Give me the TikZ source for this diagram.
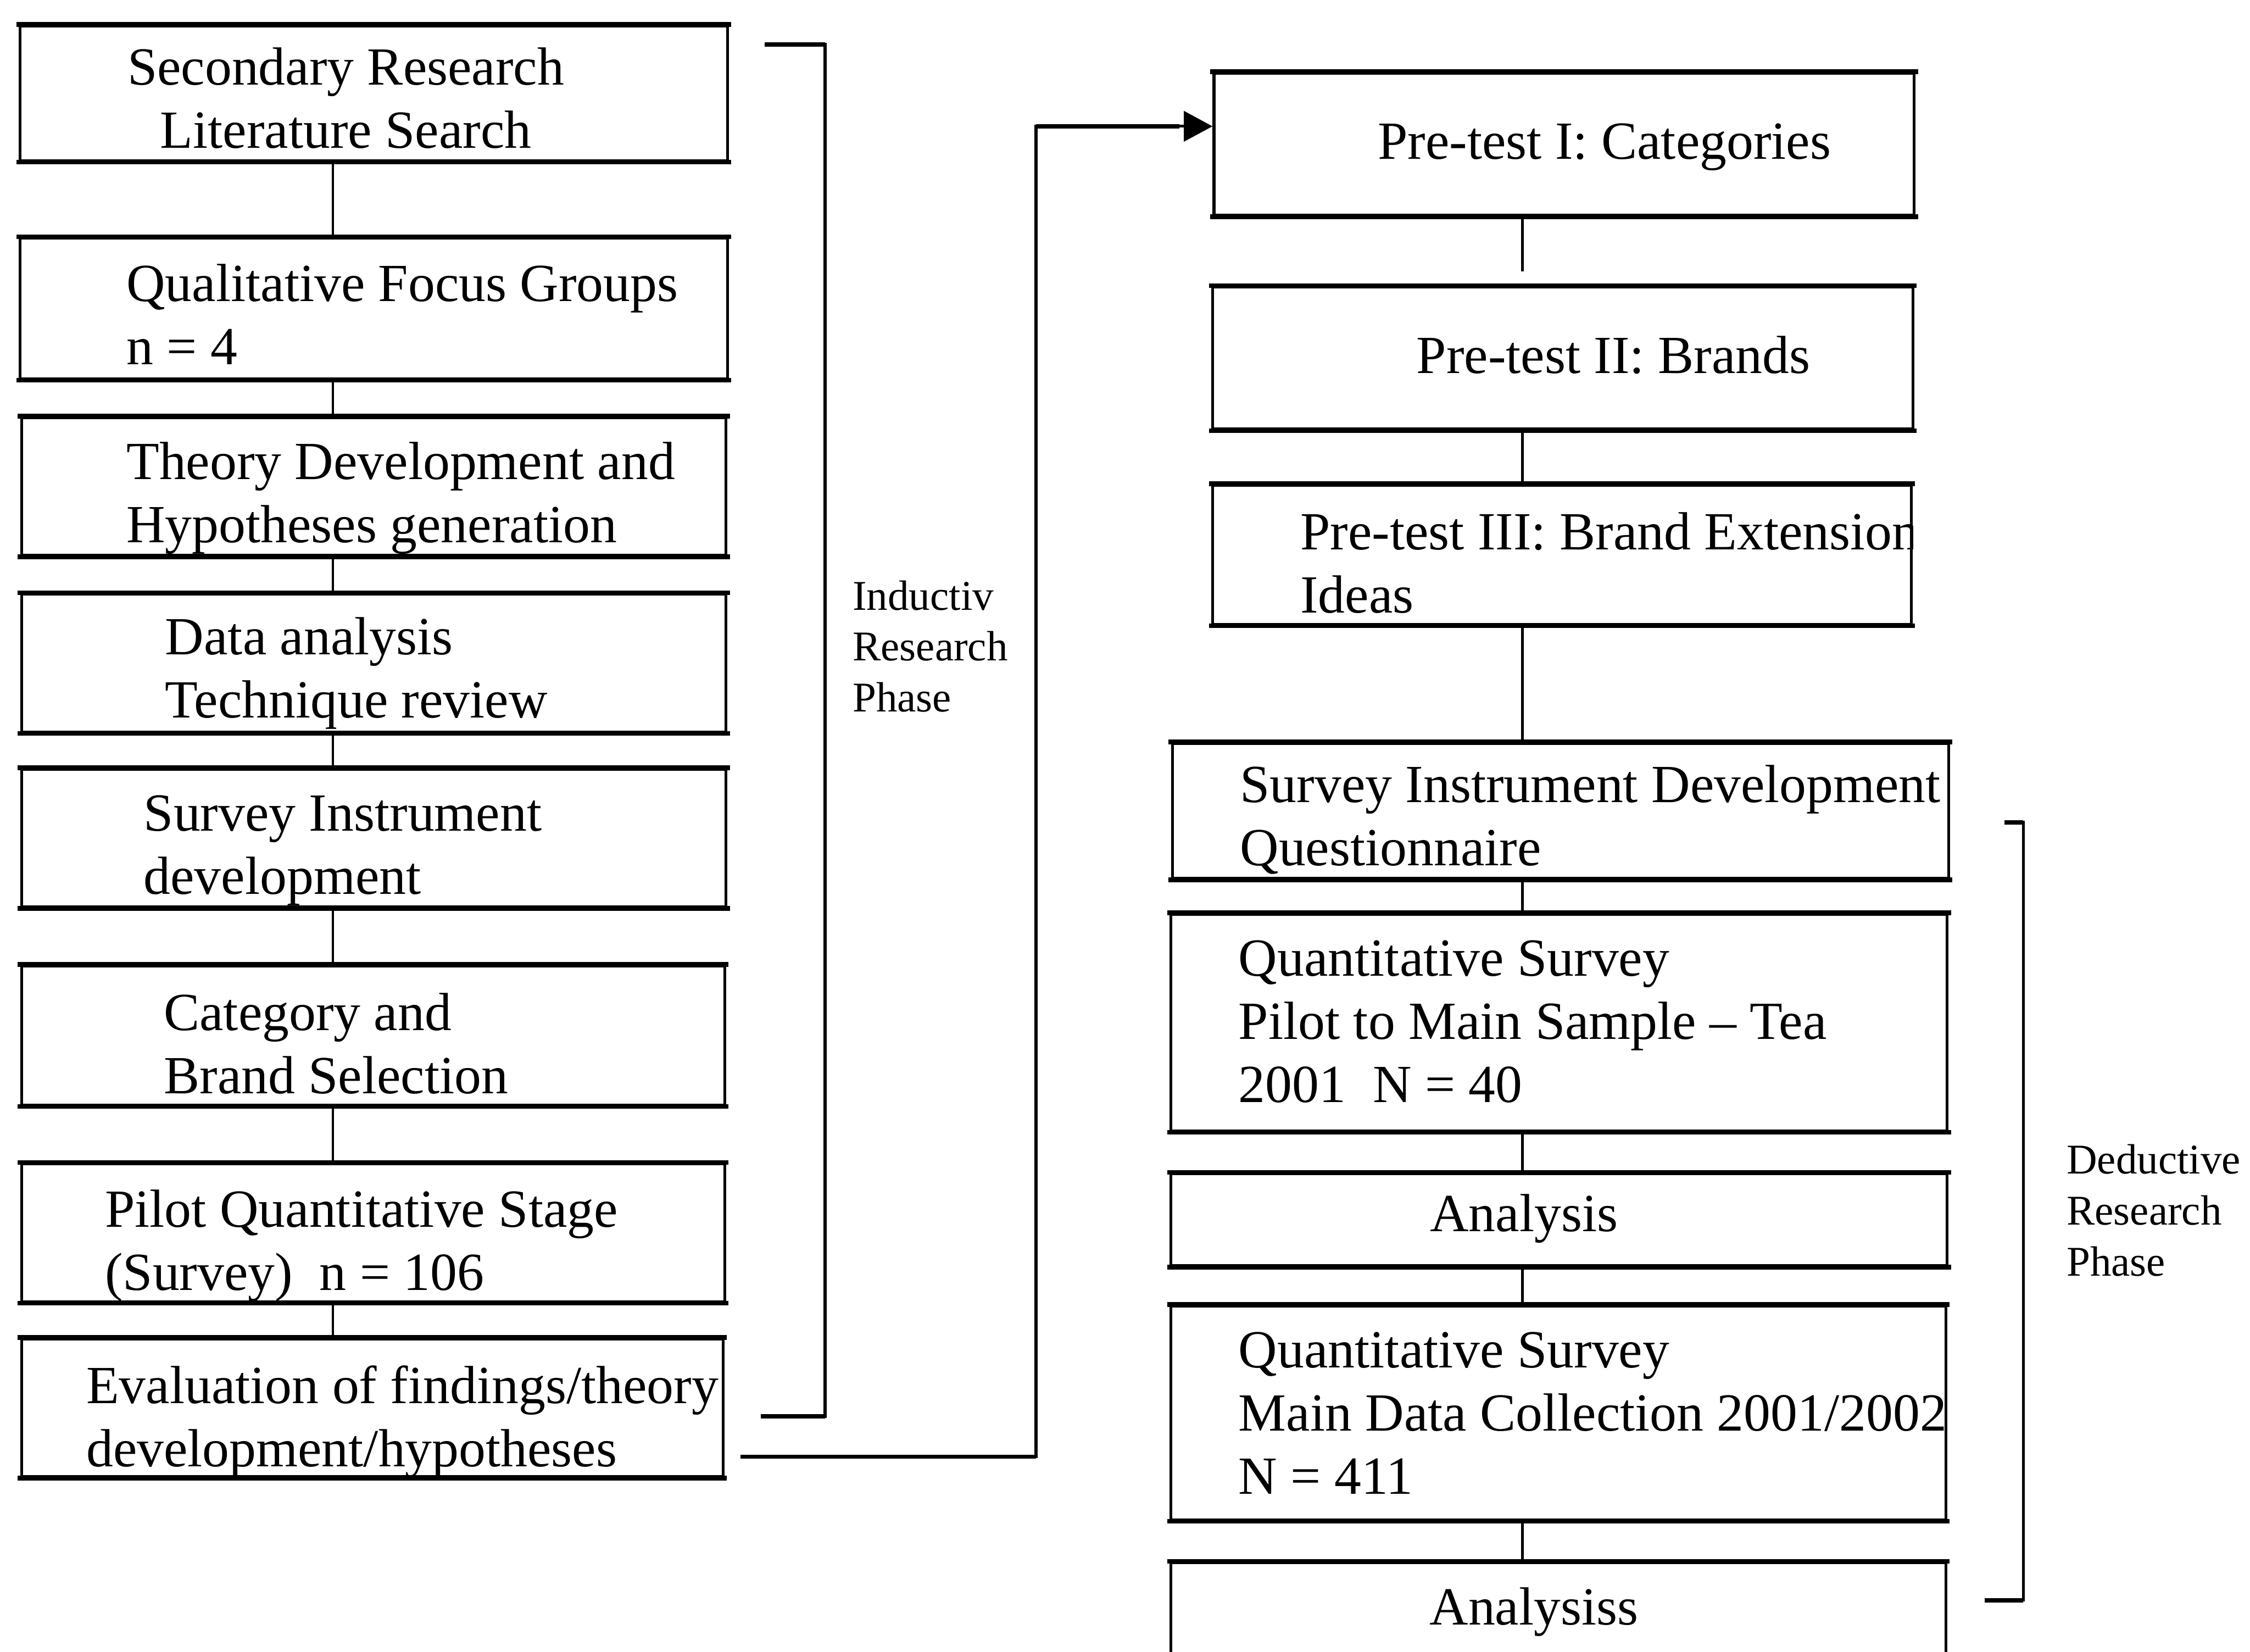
\documentclass[tikz,border=0pt]{standalone}
\usepackage{fontspec}
\setmainfont{Liberation Serif}
\usetikzlibrary{arrows.meta}
% multi-line text whose baseline is that of its first line
\newcommand{\linesL}[1]{\begin{tabular}[t]{@{}l@{}}#1\end{tabular}}
\newcommand{\linesC}[1]{\begin{tabular}[t]{@{}c@{}}#1\end{tabular}}
\begin{document}
\begin{tikzpicture}[x=1pt,y=-1pt,
  box/.style={draw, line width=2pt, inner sep=0pt, anchor=north west},
  hedge/.style={line width=3.2pt, line cap=rect},
  link/.style={line width=1.8pt},
  rule/.style={line width=2pt},
  rulethick/.style={line width=3pt},
  txt/.style={inner sep=0pt, font=\fontsize{37.4}{44}\selectfont, anchor=base west},
  phase/.style={inner sep=0pt, font=\fontsize{29.5}{35.5}\selectfont, anchor=base west},
]
\useasboundingbox (0,0) rectangle (1568,1151);
\clip (0,0) rectangle (1568,1151);

% ---------- inductive column ----------
\node[box, minimum width=493pt, minimum height=94pt] (l1) at (13,17) {};
\node[box, minimum width=493pt, minimum height=98pt] (l2) at (13,165) {};
\node[box, minimum width=491pt, minimum height=96pt] (l3) at (14,290) {};
\node[box, minimum width=491pt, minimum height=96pt] (l4) at (14,413) {};
\node[box, minimum width=491pt, minimum height=96pt] (l5) at (14,535) {};
\node[box, minimum width=490pt, minimum height=97pt] (l6) at (14,672) {};
\node[box, minimum width=490pt, minimum height=96pt] (l7) at (14,810) {};
\node[box, minimum width=489pt, minimum height=96pt] (l8) at (14,932) {};

\node[txt, anchor=base] (l1t) at (241,59) {\linesC{Secondary Research\\Literature Search}};
\node[txt] (l2t) at (88,210) {\linesL{Qualitative Focus Groups\\n = 4}};
\node[txt] (l3t) at (88,334) {\linesL{Theory Development and\\Hypotheses generation}};
\node[txt] (l4t) at (115,456) {\linesL{Data analysis\\Technique review}};
\node[txt] (l5t) at (100,579) {\linesL{Survey Instrument\\development}};
\node[txt] (l6t) at (114,718) {\linesL{Category and\\Brand Selection}};
\node[txt] (l7t) at (73,855) {\linesL{Pilot Quantitative Stage\\(Survey)\ \ n = 106}};
\node[txt] (l8t) at (60,978) {\linesL{Evaluation of findings/theory\\development/hypotheses}};

% ---------- deductive column ----------
\node[box, minimum width=488pt, minimum height=99pt] (r1) at (845,50) {};
\node[box, minimum width=488pt, minimum height=99pt] (r2) at (844,199) {};
\node[box, minimum width=487pt, minimum height=97pt] (r3) at (844,337) {};
\node[box, minimum width=541pt, minimum height=94pt] (r4) at (816,517) {};
\node[box, minimum width=541pt, minimum height=151pt] (r5) at (815,636) {};
\node[box, minimum width=541pt, minimum height=64pt] (r6) at (815,817) {};
\node[box, minimum width=540pt, minimum height=149pt] (r7) at (815,909) {};
\node[box, minimum width=540pt, minimum height=100pt] (r8) at (815,1088) {};

\node[txt] (r1t) at (960,111) {Pre-test I: Categories};
\node[txt] (r2t) at (987,260) {Pre-test II: Brands};
\begin{scope}
  \clip (r3.south west) rectangle (r3.north east);
  \node[txt] (r3t) at (906,383) {\linesL{Pre-test III: Brand Extension\\Ideas}};
\end{scope}
\node[txt] (r4t) at (864,559) {\linesL{Survey Instrument Development\\Questionnaire}};
\node[txt] (r5t) at (863,680) {\linesL{Quantitative Survey\\Pilot to Main Sample -- Tea\\2001\ \ N = 40}};
\node[txt, anchor=base] (r6t) at (1062,858) {Analysis};
\node[txt] (r7t) at (863,953) {\linesL{Quantitative Survey\\Main Data Collection 2001/2002\\N = 411}};
\node[txt, anchor=base] (r8t) at (1069,1132) {Analysiss};

% heavier top and bottom edges of every box
\foreach \n in {l1,l2,l3,l4,l5,l6,l7,l8,r1,r2,r3,r4,r5,r6,r7,r8} {
  \draw[hedge] (\n.north west) -- (\n.north east);
  \draw[hedge] (\n.south west) -- (\n.south east);
}

% ---------- connectors ----------
\coordinate (lx) at (232,0);
\coordinate (rx) at (1061,0);
\foreach \a/\b in {l1/l2,l2/l3,l3/l4,l4/l5,l5/l6,l6/l7,l7/l8}
  \draw[link] (\a.south -| lx) -- (\b.north -| lx);
\draw[link, shorten >=10pt] (r1.south -| rx) -- (r2.north -| rx);
\foreach \a/\b in {r2/r3,r3/r4,r4/r5,r5/r6,r6/r7,r7/r8}
  \draw[link] (\a.south -| rx) -- (\b.north -| rx);

% arrow from the last inductive step to the first pre-test
\coordinate (a0) at (516,1015);
\coordinate (ax) at (722,0);
\coordinate (ay) at (0,88);
\draw[rule, -{Triangle[length=20pt,width=21pt]}]
  (a0) -- (a0 -| ax) -- (ax |- ay) -- (r1.west |- ay);
\draw[rulethick] (a0) -- (a0 -| ax);
\draw[rulethick] (ax |- ay) -- ++(100,0);

% ---------- phase brackets ----------
\coordinate (ib1) at (533,31);
\coordinate (ib2) at (575,31);
\coordinate (ib3) at (575,987);
\coordinate (ib4) at (530,987);
\draw[rule] (ib1) -- (ib2) -- (ib3) -- (ib4);
\draw[rulethick] (ib1) -- (ib2);
\draw[rulethick] (ib3) -- (ib4);

\coordinate (db1) at (1397,573);
\coordinate (db2) at (1410,573);
\coordinate (db3) at (1410,1115);
\coordinate (db4) at (1383,1115);
\draw[rule] (db1) -- (db2) -- (db3) -- (db4);
\draw[rulethick] (db1) -- (db2);
\draw[rulethick] (db3) -- (db4);

\node[phase] (ind) at (594,425) {\linesL{Inductiv\\Research\\Phase}};
\node[phase] (ded) at (1440,818) {\linesL{Deductive\\Research\\Phase}};
\end{tikzpicture}
\end{document}
